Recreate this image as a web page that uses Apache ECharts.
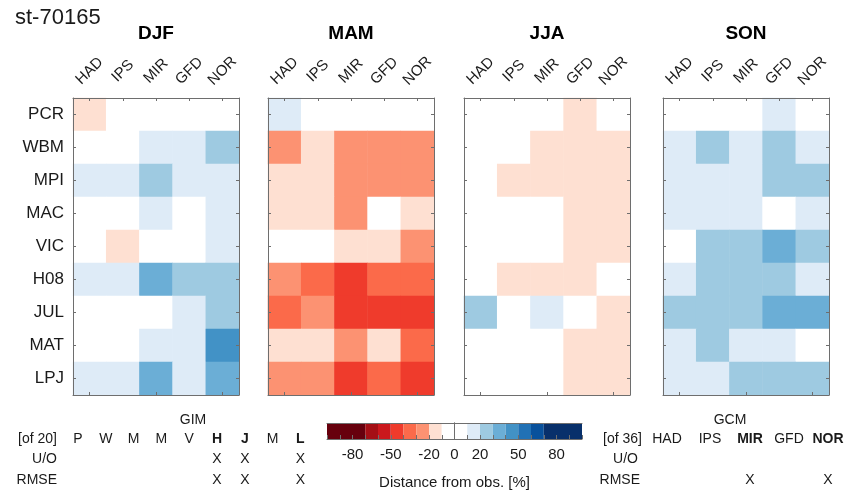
<!DOCTYPE html>
<html>
<head>
<meta charset="utf-8">
<script src="https://cdn.jsdelivr.net/npm/echarts@6/dist/echarts.min.js"></script>
<style>
html,body{margin:0;padding:0;background:#fff;}
#main{width:851px;height:491px;}
</style>
</head>
<body>
<div id="main"></div>
<script>
var stationName = 'st-70165';
var seasons = ['DJF', 'MAM', 'JJA', 'SON'];
var gcms = ['HAD', 'IPS', 'MIR', 'GFD', 'NOR'];
var gims = ['PCR', 'WBM', 'MPI', 'MAC', 'VIC', 'H08', 'JUL', 'MAT', 'LPJ'];

// distance from obs. [%], rows = gims, cols = gcms
var djf = [
    [-14, 0, 0, 0, 0],
    [0, 0, 15, 14, 24],
    [16, 13, 26, 15, 14],
    [0, 0, 15, 0, 16],
    [0, -15, 0, 0, 14],
    [14, 16, 36, 25, 26],
    [0, 0, 0, 13, 24],
    [0, 0, 14, 15, 46],
    [15, 14, 34, 16, 35]
];
var mam = [
    [15, 0, 0, 0, 0],
    [-26, -14, -25, -26, -24],
    [-15, -16, -25, -26, -25],
    [-14, -15, -26, 0, -15],
    [0, 0, -14, -16, -27],
    [-25, -36, -45, -35, -34],
    [-35, -25, -46, -45, -44],
    [-15, -14, -26, -15, -36],
    [-26, -24, -45, -35, -46]
];
var jja = [
    [0, 0, 0, -13, 0],
    [0, 0, -14, -15, -12],
    [0, -13, -14, -15, -14],
    [0, 0, 0, -14, -13],
    [0, 0, 0, -15, -14],
    [0, -14, -15, -13, 0],
    [26, 0, 14, 0, -13],
    [0, 0, 0, -12, -14],
    [0, 0, 0, -13, -14]
];
var son = [
    [0, 0, 0, 14, 0],
    [15, 26, 14, 25, 13],
    [14, 15, 16, 25, 26],
    [13, 14, 15, 0, 14],
    [0, 25, 26, 36, 25],
    [14, 26, 25, 24, 15],
    [25, 26, 24, 35, 36],
    [15, 25, 14, 15, 0],
    [14, 13, 26, 25, 24]
];
var seasonData = [djf, mam, jja, son];

// colour scale
var binEdges = [-100, -70, -60, -50, -40, -30, -20, -10, 10, 20, 30, 40, 50, 60, 70, 100];
var binColors = ['#67000d', '#a50f15', '#cb181d', '#ef3b2c', '#fb6a4a', '#fc9272', '#fee0d2', '#ffffff',
    '#deebf7', '#9ecae1', '#6baed6', '#4292c6', '#2171b5', '#08519c', '#08306b'];
var barTicks = [-80, -50, -20, 0, 20, 50, 80];

// selection tables
var gimLetters = ['P', 'W', 'M', 'M', 'V', 'H', 'J', 'M', 'L'];
var gimBold = [0, 0, 0, 0, 0, 1, 1, 0, 1];
var gimUO = [0, 0, 0, 0, 0, 1, 1, 0, 1];
var gimRMSE = [0, 0, 0, 0, 0, 1, 1, 0, 1];
var gcmBold = [0, 0, 1, 0, 1];
var gcmUO = [0, 0, 0, 0, 0];
var gcmRMSE = [0, 0, 1, 0, 1];

var FONT = '"Liberation Sans", Arial, sans-serif';
var panelLeft = [73, 268, 464, 663];
var panelW = 166, panelTop = 98, panelH = 297;
var axisCol = '#6e6e6e';
var textCol = '#1a1a1a';

var chart = echarts.init(document.getElementById('main'));

var grids = [], xAxes = [], yAxes = [], series = [], graphics = [];

seasons.forEach(function(s, i){
    grids.push({left: panelLeft[i], top: panelTop, width: panelW, height: panelH});
    var tick = {show: true, inside: true, length: 3, alignWithLabel: true, lineStyle: {color: axisCol}};
    var line = {show: true, lineStyle: {color: axisCol, width: 1}};
    xAxes.push({
        type: 'category', gridIndex: i, position: 'top', data: gcms, z: 5,
        axisLine: line, axisTick: tick,
        axisLabel: {rotate: -45, align: 'center', verticalAlign: 'middle', fontSize: 15,
            color: textCol, fontFamily: FONT, margin: 27, interval: 0}
    });
    xAxes.push({
        type: 'category', gridIndex: i, position: 'bottom', data: gcms, z: 5,
        axisLine: line, axisTick: tick, axisLabel: {show: false}
    });
    yAxes.push({
        type: 'category', gridIndex: i, position: 'left', data: gims, inverse: true, z: 5,
        axisLine: line, axisTick: tick,
        axisLabel: {show: i === 0, fontSize: 17, color: textCol, fontFamily: FONT, margin: 9, interval: 0}
    });
    yAxes.push({
        type: 'category', gridIndex: i, position: 'right', data: gims, inverse: true, z: 5,
        axisLine: line, axisTick: tick, axisLabel: {show: false}
    });
    var cells = [];
    seasonData[i].forEach(function(row, r){
        row.forEach(function(v, c){ cells.push([c, r, v]); });
    });
    series.push({
        type: 'heatmap', name: s, xAxisIndex: 2 * i, yAxisIndex: 2 * i,
        data: cells, itemStyle: {borderWidth: 0}, emphasis: {disabled: true}
    });
    graphics.push({
        type: 'text', x: panelLeft[i] + panelW / 2, y: 34,
        style: {text: s, font: 'bold 19px ' + FONT, fill: '#000', align: 'center', verticalAlign: 'middle'}
    });
});

// colorbar
grids.push({left: 327, top: 423, width: 255, height: 20});
xAxes.push({
    type: 'value', gridIndex: 4, position: 'bottom', min: -100, max: 100, interval: 10, z: 5,
    axisLine: {show: true, lineStyle: {color: axisCol}},
    axisTick: {show: true, inside: true, length: 4, lineStyle: {color: axisCol}},
    splitLine: {show: false},
    axisLabel: {
        fontSize: 15, color: textCol, fontFamily: FONT, margin: 8,
        formatter: function(v){ return barTicks.indexOf(v) >= 0 ? String(v) : ''; }
    },
    name: 'Distance from obs. [%]', nameLocation: 'middle', nameGap: 36,
    nameTextStyle: {fontSize: 15, color: textCol, fontFamily: FONT}
});
xAxes.push({
    type: 'value', gridIndex: 4, position: 'top', min: -100, max: 100, z: 5,
    axisLine: {show: true, lineStyle: {color: axisCol}}, axisTick: {show: false},
    axisLabel: {show: false}, splitLine: {show: false}
});
yAxes.push({
    type: 'category', gridIndex: 4, position: 'left', data: ['bar'], z: 5,
    axisLine: {show: true, lineStyle: {color: axisCol}}, axisTick: {show: false}, axisLabel: {show: false}
});
yAxes.push({
    type: 'category', gridIndex: 4, position: 'right', data: ['bar'], z: 5,
    axisLine: {show: true, lineStyle: {color: axisCol}}, axisTick: {show: false}, axisLabel: {show: false}
});
var bins = [];
for (var b = 0; b < binColors.length; b++) bins.push([binEdges[b], binEdges[b + 1], b]);
series.push({
    type: 'custom', xAxisIndex: 8, yAxisIndex: 8, z: 1, silent: true,
    encode: {x: [0, 1]},
    data: bins,
    renderItem: function(params, api){
        var p0 = api.coord([api.value(0), 0]);
        var p1 = api.coord([api.value(1), 0]);
        var h = api.size([0, 1])[1];
        return {
            type: 'rect',
            shape: {x: p0[0], y: p0[1] - h / 2, width: p1[0] - p0[0], height: h},
            style: {fill: binColors[api.value(2)]}
        };
    }
});

var pieces = bins.map(function(d){ return {gte: d[0], lt: d[1], color: binColors[d[2]]}; });

// texts
function txt(x, y, s, opts){
    opts = opts || {};
    graphics.push({
        type: 'text', x: x, y: y,
        style: {text: s, font: (opts.bold ? 'bold ' : '') + (opts.size || 14) + 'px ' + FONT,
            fill: textCol, align: opts.align || 'center', verticalAlign: 'middle'}
    });
}
txt(15, 18, stationName, {align: 'left', size: 22});

var rowY = [439, 459, 480];
// GIM table
txt(193, 420, 'GIM');
txt(57, rowY[0], '[of 20]', {align: 'right'});
txt(57, rowY[1], 'U/O', {align: 'right'});
txt(57, rowY[2], 'RMSE', {align: 'right'});
gimLetters.forEach(function(l, i){
    var x = 78 + i * 27.8;
    txt(x, rowY[0], l, {bold: gimBold[i]});
    if (gimUO[i]) txt(x, rowY[1], 'X');
    if (gimRMSE[i]) txt(x, rowY[2], 'X');
});
// GCM table
var gcmX = [667, 710, 750, 789, 828];
txt(730, 420, 'GCM');
txt(642, rowY[0], '[of 36]', {align: 'right'});
txt(638, rowY[1], 'U/O', {align: 'right'});
txt(640, rowY[2], 'RMSE', {align: 'right'});
gcms.forEach(function(g, i){
    txt(gcmX[i], rowY[0], g, {bold: gcmBold[i]});
    if (gcmUO[i]) txt(gcmX[i], rowY[1], 'X');
    if (gcmRMSE[i]) txt(gcmX[i], rowY[2], 'X');
});

chart.setOption({
    animation: false,
    backgroundColor: '#fff',
    grid: grids,
    xAxis: xAxes,
    yAxis: yAxes,
    visualMap: {type: 'piecewise', show: false, seriesIndex: [0, 1, 2, 3], pieces: pieces},
    series: series,
    graphic: graphics
});
</script>
</body>
</html>
